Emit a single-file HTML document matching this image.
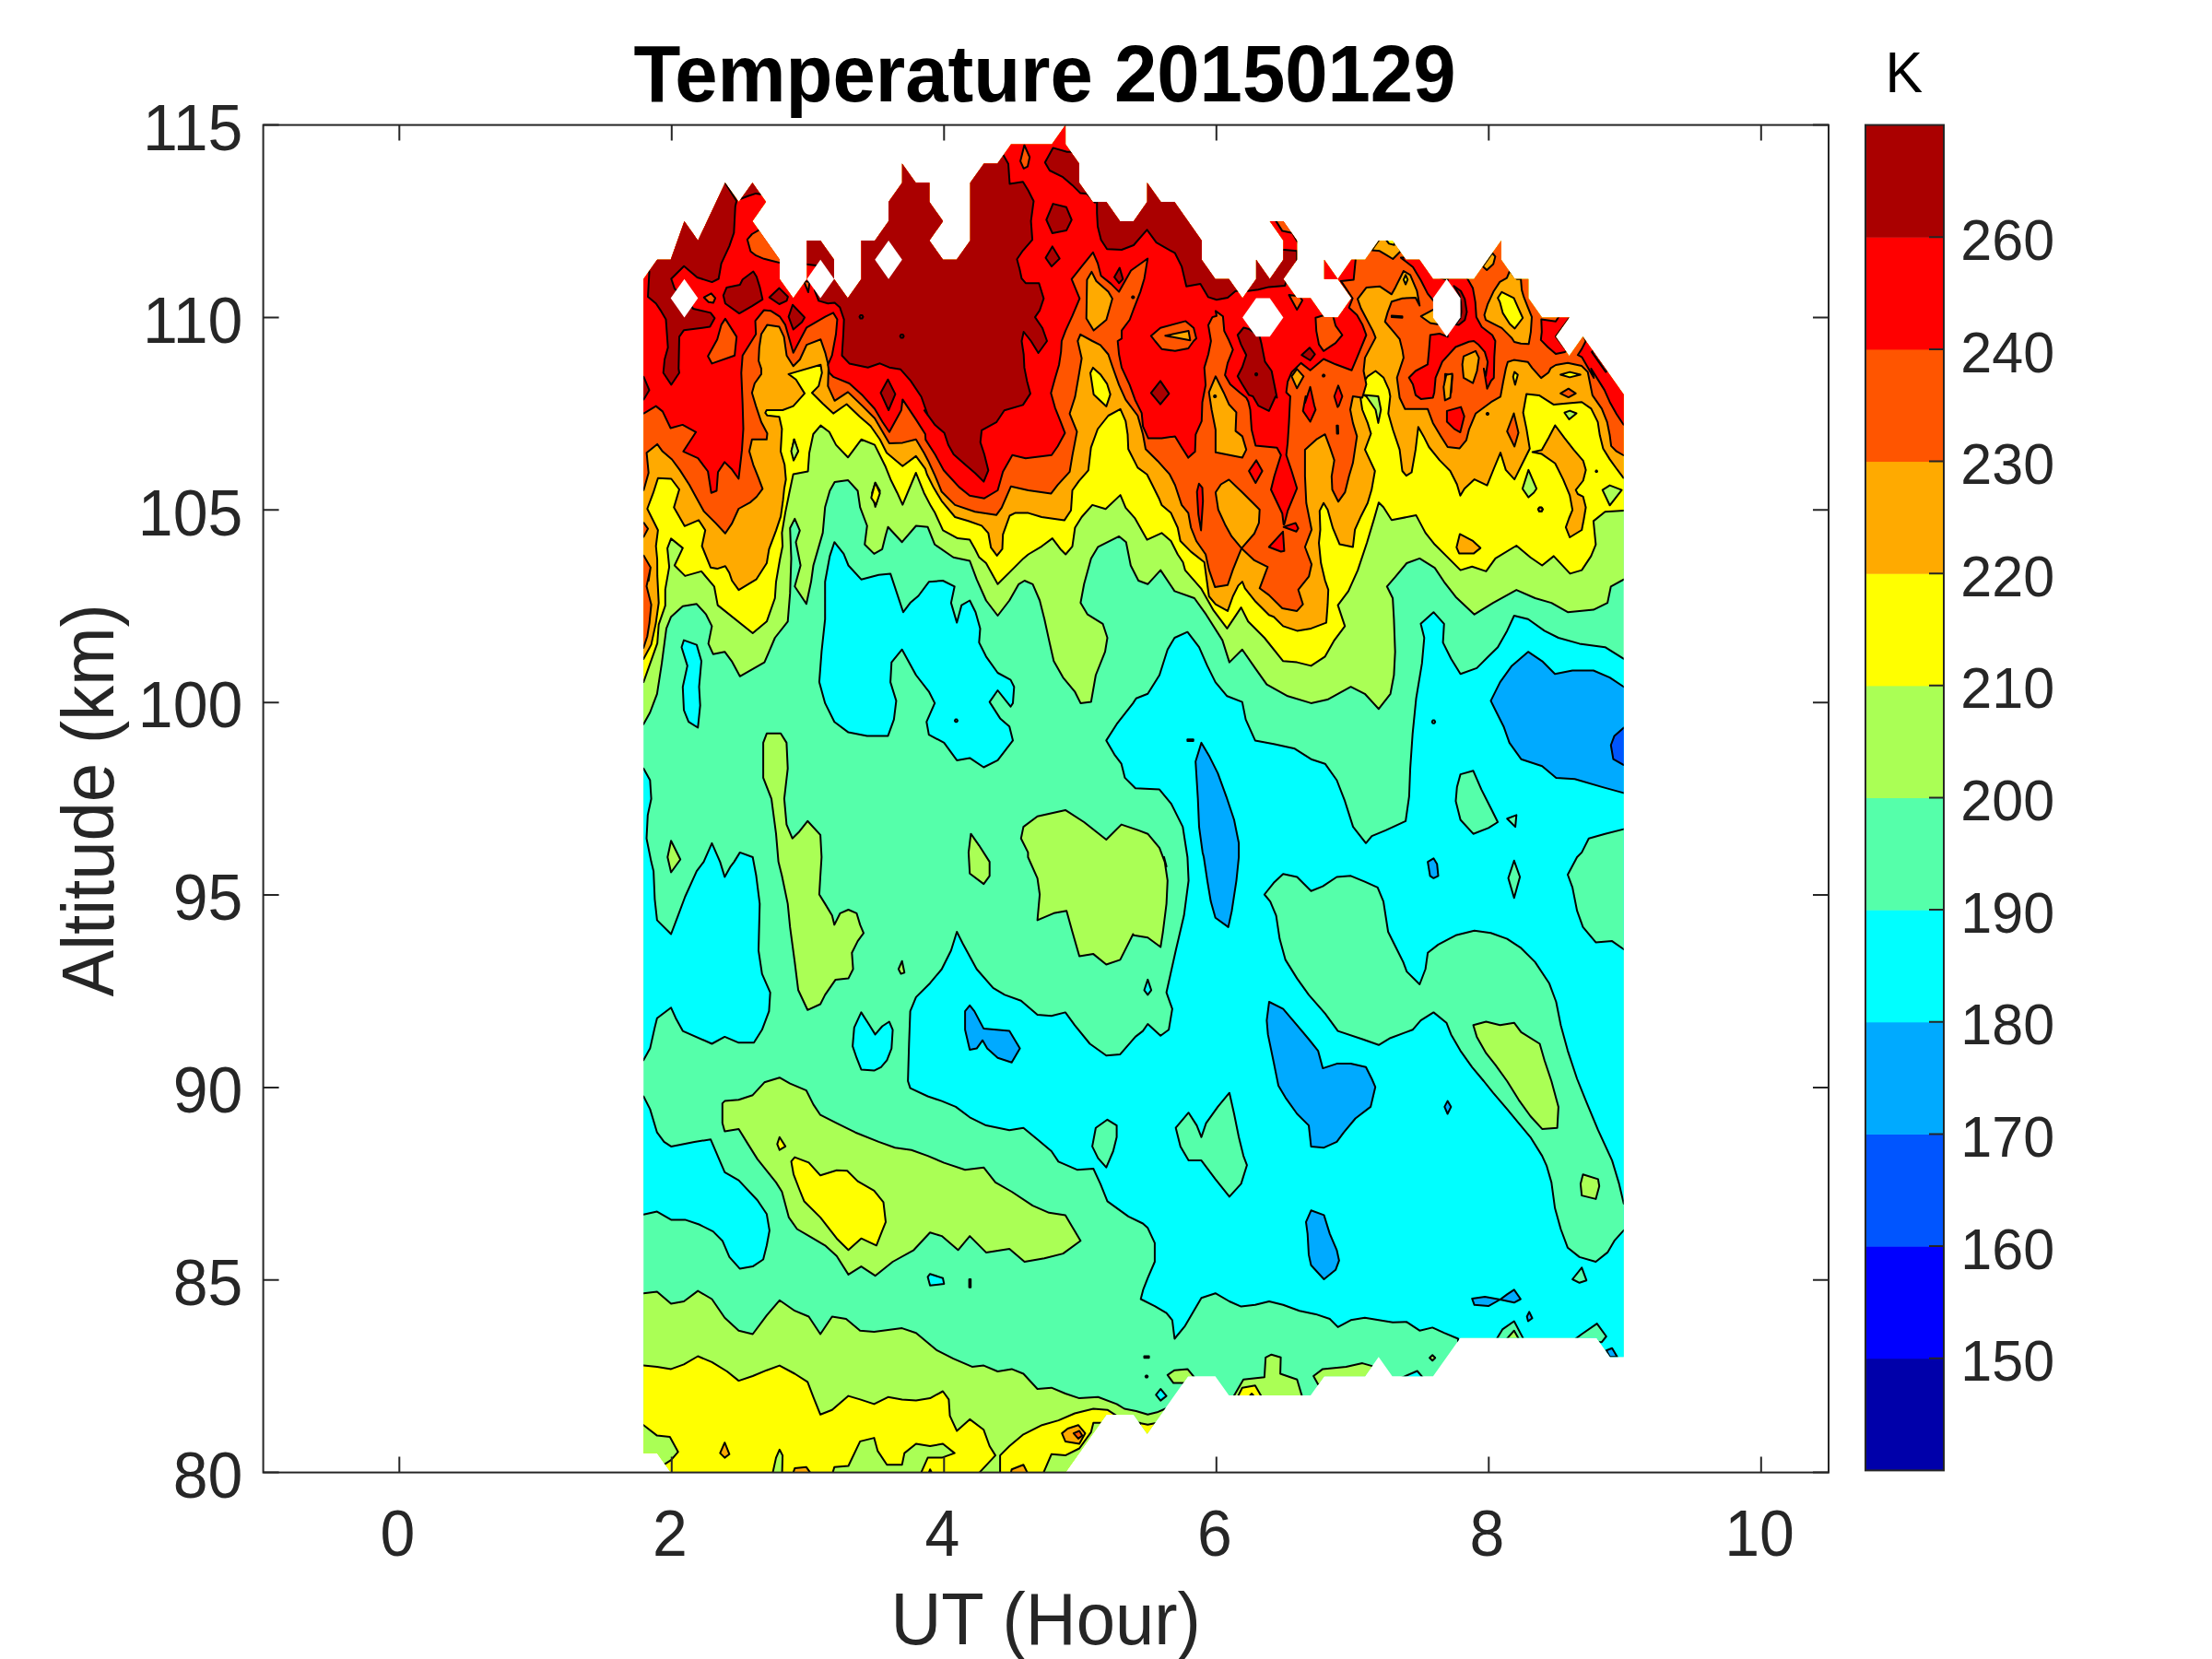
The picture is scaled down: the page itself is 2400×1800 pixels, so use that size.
<!DOCTYPE html>
<html><head><meta charset="utf-8"><title>Temperature 20150129</title>
<style>html,body{margin:0;padding:0;background:#fff}svg{display:block}</style></head>
<body>
<svg width="2400" height="1800" viewBox="0 0 2400 1800">
<rect width="2400" height="1800" fill="#fff"/>
<defs><clipPath id="c"><path d="M698.2 1576.7 L713.0 1576.7 L727.7 1597.6 L1156.1 1597.6 L1200.4 1534.9 L1230.0 1534.9 L1244.7 1555.8 L1289.0 1493.2 L1318.6 1493.2 L1333.4 1514.1 L1422.0 1514.1 L1436.8 1493.2 L1481.1 1493.2 L1495.8 1472.3 L1510.6 1493.2 L1554.9 1493.2 L1584.5 1451.4 L1732.2 1451.4 L1746.9 1472.3 L1761.7 1472.3 L1761.7 428.0 L1717.4 365.3 L1702.6 386.2 L1687.9 365.3 L1702.6 344.4 L1673.1 344.4 L1658.3 323.6 L1658.3 302.7 L1643.5 302.7 L1628.8 281.8 L1628.8 260.9 L1599.2 302.7 L1569.7 302.7 L1554.9 302.7 L1540.1 281.8 L1525.4 281.8 L1510.6 260.9 L1495.8 260.9 L1481.1 281.8 L1466.3 281.8 L1451.5 302.7 L1466.3 323.6 L1451.5 344.4 L1436.8 344.4 L1422.0 323.6 L1407.2 323.6 L1392.4 302.7 L1407.2 281.8 L1407.2 260.9 L1392.4 240.0 L1377.7 240.0 L1392.4 260.9 L1392.4 281.8 L1377.7 302.7 L1362.9 281.8 L1362.9 302.7 L1348.1 323.6 L1333.4 302.7 L1318.6 302.7 L1303.8 281.8 L1303.8 260.9 L1274.3 219.1 L1259.5 219.1 L1244.7 198.2 L1244.7 219.1 L1230.0 240.0 L1215.2 240.0 L1200.4 219.1 L1185.6 219.1 L1170.9 198.2 L1170.9 177.4 L1156.1 156.5 L1156.1 135.6 L1141.3 156.5 L1097.0 156.5 L1082.2 177.4 L1067.5 177.4 L1052.7 198.2 L1052.7 260.9 L1037.9 281.8 L1023.2 281.8 L1008.4 260.9 L1023.2 240.0 L1008.4 219.1 L1008.4 198.2 L993.6 198.2 L978.8 177.4 L978.8 198.2 L964.1 219.1 L964.1 240.0 L949.3 260.9 L934.5 260.9 L934.5 302.7 L919.8 323.6 L905.0 302.7 L905.0 281.8 L890.2 260.9 L875.5 260.9 L875.5 302.7 L860.7 323.6 L845.9 302.7 L845.9 281.8 L816.4 240.0 L831.1 219.1 L816.4 198.2 L801.6 219.1 L786.8 198.2 L757.3 260.9 L742.5 240.0 L727.7 281.8 L713.0 281.8 L698.2 302.7Z M1436.8 281.8 L1451.5 302.7 L1436.8 302.7Z" clip-rule="nonzero"/></clipPath></defs>
<g clip-path="url(#c)" stroke="#000" stroke-width="2" stroke-linejoin="round">
<rect x="600" y="100" width="1300" height="1550" fill="#55FFAA" stroke="none"/>
<path d="M742.0 694.6 L755.9 699.6 L761.0 717.3 L758.5 745.2 L759.7 765.4 L757.2 789.5 L747.1 783.2 L742.0 770.5 L740.8 745.2 L745.8 722.4 L739.5 702.2Z" fill="#00FFFF"/>
<path d="M905.3 588.2 L915.4 600.9 L920.5 613.5 L934.4 628.7 L953.4 623.7 L966.1 622.4 L980.0 664.2 L987.6 654.1 L996.5 646.5 L1007.8 631.3 L1023.0 630.0 L1035.7 636.3 L1031.9 654.1 L1038.2 675.6 L1043.3 656.6 L1052.2 651.5 L1058.5 664.2 L1063.5 681.9 L1062.3 697.1 L1069.9 712.3 L1082.5 730.0 L1096.5 737.6 L1100.3 745.2 L1099.0 762.9 L1096.5 766.7 L1082.5 749.0 L1073.7 761.6 L1085.1 779.4 L1095.2 788.2 L1099.0 803.4 L1082.5 824.9 L1067.3 832.5 L1052.2 822.4 L1038.2 824.9 L1024.3 805.9 L1007.8 797.1 L1005.3 783.2 L1014.2 762.9 L1007.8 750.3 L993.9 732.5 L978.7 704.7 L967.3 718.6 L966.1 740.1 L972.4 760.4 L969.9 780.6 L963.5 798.4 L940.8 798.4 L920.5 794.6 L905.3 783.2 L895.2 762.9 L888.9 740.1 L891.4 707.2 L895.2 671.8 L895.2 631.3 L900.3 603.4Z" fill="#00FFFF"/>
<path d="M690.1 833.8 L698.2 833.8 L705.3 846.5 L706.6 866.7 L702.8 884.4 L701.5 909.7 L706.6 935.1 L709.1 945.2 L710.4 975.6 L712.9 998.4 L728.1 1013.5 L735.7 993.3 L743.3 973.0 L755.9 945.2 L763.5 935.1 L772.4 914.8 L781.3 935.1 L786.3 951.5 L792.7 940.1 L796.5 935.1 L802.8 924.9 L816.7 930.0 L820.5 950.3 L824.3 980.6 L823.0 1031.3 L826.8 1056.6 L835.7 1076.8 L834.4 1097.1 L826.8 1117.3 L818.0 1131.3 L801.5 1131.3 L786.3 1124.9 L772.4 1132.5 L740.8 1118.6 L733.2 1104.7 L728.1 1093.3 L712.9 1104.7 L710.4 1114.8 L705.3 1137.6 L698.2 1150.3 L690.1 1150.3Z" fill="#00FFFF"/>
<path d="M690.1 1189.5 L698.2 1189.5 L705.3 1203.4 L712.9 1228.7 L720.5 1238.9 L728.1 1243.9 L753.4 1238.9 L771.1 1236.3 L778.7 1254.1 L786.3 1271.8 L801.5 1280.6 L821.8 1302.2 L831.9 1317.3 L834.9 1335.1 L831.9 1351.3 L828.1 1366.5 L816.7 1374.1 L802.8 1376.6 L791.4 1363.9 L783.8 1346.2 L773.7 1336.1 L758.5 1328.5 L743.3 1323.4 L728.1 1323.4 L712.9 1314.6 L698.2 1317.8 L690.1 1317.8Z" fill="#00FFFF"/>
<path d="M934.4 1098.4 L943.3 1112.3 L949.6 1122.4 L957.2 1113.5 L964.8 1108.5 L968.6 1117.3 L967.3 1137.6 L962.3 1150.3 L955.9 1157.8 L948.4 1161.6 L934.4 1160.4 L929.4 1147.7 L925.1 1135.1 L926.8 1114.8Z" fill="#00FFFF"/>
<path d="M1200.3 803.4 L1211.6 785.7 L1229.4 762.9 L1232.7 757.8 L1245.3 752.8 L1258.0 732.5 L1266.8 704.7 L1274.4 692.0 L1288.4 685.7 L1301.0 702.2 L1309.9 722.4 L1318.7 740.1 L1331.4 755.3 L1347.8 761.6 L1351.6 780.6 L1361.8 803.4 L1382.0 807.2 L1404.8 812.3 L1422.5 823.7 L1437.7 828.7 L1450.4 846.5 L1459.2 869.2 L1468.1 897.1 L1482.0 914.8 L1488.4 907.2 L1503.5 900.9 L1525.1 890.8 L1528.9 864.2 L1530.1 833.8 L1532.7 795.8 L1536.5 757.8 L1542.8 719.9 L1545.3 692.0 L1541.5 676.8 L1555.4 664.2 L1566.8 676.8 L1565.6 697.1 L1574.4 714.8 L1584.6 731.3 L1602.3 724.9 L1614.9 712.3 L1625.1 702.2 L1635.2 684.4 L1642.8 668.0 L1658.0 671.8 L1675.7 684.4 L1690.9 692.0 L1713.7 698.4 L1741.5 702.2 L1761.8 714.8 L1789.6 714.8 L1789.6 1477.8 L1582.0 1477.8 L1582.0 1452.5 L1566.8 1446.2 L1554.2 1440.4 L1540.3 1443.7 L1526.3 1434.3 L1511.1 1434.8 L1495.9 1432.3 L1480.8 1429.7 L1465.6 1432.3 L1451.6 1439.9 L1442.8 1431.0 L1427.6 1425.9 L1409.9 1422.2 L1392.2 1415.8 L1377.0 1412.0 L1361.8 1415.8 L1346.6 1417.6 L1333.9 1412.0 L1318.7 1403.2 L1303.5 1408.2 L1285.8 1438.6 L1274.4 1452.5 L1271.9 1432.3 L1265.6 1424.7 L1252.9 1417.1 L1237.7 1409.5 L1240.3 1399.4 L1245.3 1386.7 L1252.9 1369.0 L1252.9 1348.7 L1245.3 1332.3 L1240.0 1327.5 L1224.3 1319.9 L1201.5 1303.4 L1193.9 1284.4 L1186.3 1268.0 L1168.6 1269.2 L1148.4 1260.4 L1140.8 1249.0 L1125.6 1236.3 L1110.4 1223.7 L1095.2 1226.2 L1069.9 1221.1 L1052.2 1212.3 L1037.0 1200.9 L1021.8 1194.6 L1006.6 1189.5 L987.6 1180.6 L985.1 1173.0 L986.3 1132.5 L987.6 1097.1 L993.9 1081.9 L1009.1 1066.7 L1021.8 1051.5 L1031.9 1031.3 L1038.2 1011.0 L1044.6 1023.7 L1059.7 1051.5 L1077.5 1071.8 L1090.1 1079.4 L1107.8 1085.7 L1125.6 1100.9 L1140.8 1102.2 L1155.9 1098.4 L1166.1 1112.3 L1182.5 1132.5 L1200.3 1145.2 L1215.4 1143.9 L1231.9 1124.9 L1240.0 1118.6 L1245.3 1111.0 L1259.2 1123.7 L1268.1 1117.3 L1271.9 1094.6 L1265.6 1076.8 L1275.7 1031.3 L1284.6 993.3 L1289.6 955.3 L1288.4 930.0 L1283.3 897.1 L1270.6 871.8 L1258.0 856.6 L1231.9 855.3 L1220.5 843.9 L1216.7 828.7 L1209.1 818.6Z" fill="#00FFFF"/>
<path d="M1006.6 1385.4 L1009.1 1382.2 L1023.0 1386.7 L1024.3 1393.0 L1009.1 1394.8Z" fill="#00FFFF"/>
<path d="M1520.0 1495.1 L1537.7 1487.5 L1544.6 1495.6Z" fill="#00FFFF"/>
<path d="M1254.2 1513.3 L1259.2 1507.0 L1265.6 1514.6 L1259.2 1519.6Z" fill="#00FFFF"/>
<path d="M1303.5 805.9 L1312.4 821.1 L1321.3 838.9 L1331.4 866.7 L1339.0 889.5 L1344.1 914.8 L1344.1 930.0 L1341.5 955.3 L1336.5 988.2 L1332.7 1005.9 L1318.7 995.8 L1313.7 978.1 L1309.9 955.3 L1306.1 930.0 L1304.8 924.9 L1301.0 897.1 L1299.7 866.7 L1297.2 826.2Z" fill="#00AAFF"/>
<path d="M1658.0 707.2 L1673.2 717.3 L1687.1 731.3 L1706.1 727.5 L1728.9 727.5 L1746.6 735.1 L1761.8 745.2 L1789.6 745.2 L1789.6 860.4 L1761.8 860.4 L1739.0 854.1 L1708.6 845.2 L1688.4 843.9 L1673.2 831.3 L1650.4 823.7 L1637.7 805.9 L1631.4 788.2 L1622.5 770.5 L1617.5 760.4 L1627.6 740.1 L1640.3 722.4Z" fill="#00AAFF"/>
<path d="M1789.6 789.5 L1761.8 789.5 L1751.6 798.4 L1747.8 808.5 L1750.4 823.7 L1761.8 830.0 L1789.6 830.0Z" fill="#0055FF"/>
<path d="M1549.1 935.1 L1555.4 931.3 L1559.2 937.6 L1560.5 950.3 L1555.4 952.8 L1551.6 950.3Z" fill="#00AAFF"/>
<path d="M1052.2 1090.8 L1057.2 1097.1 L1067.3 1116.1 L1095.2 1118.6 L1106.6 1137.6 L1097.7 1152.8 L1082.5 1147.7 L1071.1 1137.6 L1066.1 1128.7 L1059.7 1137.6 L1052.2 1138.9 L1047.1 1117.3 L1047.1 1097.1Z" fill="#00AAFF"/>
<path d="M1377.0 1087.0 L1392.2 1094.6 L1407.3 1112.3 L1420.0 1127.5 L1430.1 1140.1 L1435.2 1159.1 L1450.4 1154.1 L1465.6 1154.1 L1482.0 1157.8 L1488.4 1170.5 L1492.2 1179.4 L1487.1 1200.9 L1470.6 1213.5 L1458.0 1228.7 L1450.4 1238.9 L1436.5 1245.2 L1422.5 1243.9 L1420.0 1221.1 L1407.3 1208.5 L1394.7 1190.8 L1387.1 1178.1 L1382.0 1152.8 L1375.7 1122.4 L1374.4 1107.2Z" fill="#00AAFF"/>
<path d="M1422.5 1313.3 L1436.5 1318.4 L1442.8 1338.6 L1450.4 1356.3 L1452.9 1367.7 L1449.1 1377.8 L1436.5 1388.0 L1422.5 1372.8 L1420.0 1361.4 L1418.7 1338.6 L1417.0 1325.9Z" fill="#00AAFF"/>
<path d="M1570.6 1194.6 L1574.4 1200.9 L1570.6 1208.5 L1567.3 1200.9Z" fill="#00AAFF"/>
<path d="M1597.2 1409.0 L1611.1 1407.0 L1627.6 1410.0 L1635.2 1404.4 L1642.8 1399.4 L1649.9 1409.5 L1642.8 1413.3 L1627.6 1410.0 L1614.9 1417.1 L1599.7 1415.8Z" fill="#00AAFF"/>
<path d="M1659.2 1423.4 L1662.5 1430.3 L1658.0 1433.5 L1656.7 1428.5Z" fill="#00AAFF"/>
<path d="M1742.8 1465.2 L1749.1 1462.7 L1754.7 1472.3 L1746.6 1472.3Z" fill="#00AAFF"/>
<path d="M1584.6 840.1 L1598.5 836.3 L1607.3 856.6 L1617.5 876.8 L1625.1 892.0 L1614.9 898.4 L1598.5 904.7 L1584.6 889.5 L1579.5 869.2 L1580.8 854.1Z" fill="#55FFAA"/>
<path d="M1635.2 888.2 L1645.3 884.4 L1644.1 897.1Z" fill="#55FFAA"/>
<path d="M1789.6 899.6 L1761.8 899.6 L1741.5 904.7 L1723.8 909.7 L1716.2 924.9 L1711.1 930.0 L1701.0 949.0 L1706.1 962.9 L1711.1 988.2 L1717.5 1005.9 L1731.4 1022.4 L1749.1 1021.1 L1761.8 1030.0 L1789.6 1030.0Z" fill="#55FFAA"/>
<path d="M1642.8 933.8 L1649.1 951.5 L1642.8 974.3 L1636.5 952.8Z" fill="#55FFAA"/>
<path d="M1371.9 970.5 L1382.0 957.8 L1392.2 948.2 L1407.3 951.5 L1422.5 966.7 L1435.2 961.6 L1450.4 951.5 L1465.6 950.3 L1480.8 956.6 L1494.7 962.9 L1501.0 978.1 L1506.1 1011.0 L1513.7 1026.2 L1522.5 1043.9 L1526.3 1054.1 L1540.3 1068.0 L1546.6 1051.5 L1549.1 1033.8 L1560.5 1024.9 L1579.5 1014.8 L1599.7 1009.7 L1617.5 1012.3 L1635.2 1018.6 L1650.4 1028.7 L1665.6 1043.9 L1680.8 1066.7 L1688.4 1087.0 L1693.4 1112.3 L1701.0 1140.1 L1711.1 1170.5 L1721.3 1195.8 L1733.9 1226.2 L1749.1 1259.1 L1756.7 1284.4 L1761.8 1305.9 L1789.6 1305.9 L1789.6 1334.8 L1761.8 1334.8 L1751.6 1346.2 L1744.1 1358.9 L1731.4 1369.0 L1713.7 1363.9 L1701.0 1353.8 L1693.4 1333.5 L1687.1 1310.8 L1683.3 1282.9 L1678.2 1265.2 L1673.2 1254.1 L1660.5 1233.8 L1647.8 1218.6 L1635.2 1203.4 L1620.0 1185.7 L1609.9 1173.0 L1597.2 1157.8 L1584.6 1140.1 L1574.4 1122.4 L1569.4 1109.7 L1555.4 1098.4 L1541.5 1107.2 L1532.7 1117.3 L1508.6 1126.2 L1495.9 1133.8 L1478.2 1127.5 L1451.6 1118.6 L1437.7 1099.6 L1420.0 1079.4 L1407.3 1061.6 L1394.7 1041.4 L1388.4 1018.6 L1384.6 993.3 L1378.2 978.1Z" fill="#55FFAA"/>
<path d="M1333.9 1185.7 L1339.0 1208.5 L1344.1 1233.8 L1349.1 1254.1 L1352.9 1264.2 L1346.6 1284.4 L1333.9 1298.4 L1318.7 1279.4 L1303.5 1259.1 L1289.6 1259.1 L1280.8 1243.9 L1275.7 1223.7 L1289.6 1207.2 L1298.5 1221.1 L1303.5 1233.8 L1308.6 1218.6 L1321.3 1200.9Z" fill="#55FFAA"/>
<path d="M1201.5 1214.8 L1211.6 1221.1 L1211.6 1233.8 L1207.8 1249.0 L1200.3 1266.7 L1191.4 1256.6 L1185.1 1243.9 L1188.9 1223.7Z" fill="#55FFAA"/>
<path d="M1716.2 1375.3 L1721.3 1389.2 L1713.7 1391.8 L1706.1 1388.0Z" fill="#55FFAA"/>
<path d="M1622.5 1455.1 L1630.1 1442.4 L1642.8 1433.5 L1654.2 1455.1Z" fill="#55FFAA"/>
<path d="M1632.7 1455.1 L1642.8 1443.7 L1649.1 1455.1Z" fill="#AAFF55"/>
<path d="M1706.1 1455.1 L1716.2 1447.5 L1732.7 1436.1 L1742.8 1450.0 L1737.7 1456.3Z" fill="#55FFAA"/>
<path d="M1245.3 1062.9 L1249.1 1074.3 L1245.3 1079.4 L1241.5 1074.3Z" fill="#00FFFF"/>
<path d="M831.9 795.8 L847.1 795.8 L853.4 805.9 L854.7 833.8 L850.9 866.7 L853.4 894.6 L859.7 909.7 L867.3 902.2 L876.2 890.8 L890.1 905.9 L891.4 930.0 L890.1 950.3 L888.9 970.5 L895.2 980.6 L902.8 993.3 L905.3 1003.4 L911.6 990.8 L920.5 987.0 L929.4 990.8 L933.2 1003.4 L937.0 1012.3 L930.6 1021.1 L924.3 1033.8 L925.6 1051.5 L920.5 1061.6 L906.6 1062.9 L895.2 1079.4 L890.1 1089.5 L876.2 1095.8 L866.1 1074.3 L862.3 1043.9 L857.2 1005.9 L854.7 980.6 L848.4 950.3 L844.6 935.1 L842.0 904.7 L837.0 866.7 L828.1 843.9 L828.1 805.9Z" fill="#AAFF55"/>
<path d="M728.1 912.3 L738.2 932.5 L728.1 946.5 L724.3 930.0Z" fill="#AAFF55"/>
<path d="M1053.4 904.7 L1062.3 917.3 L1073.7 935.1 L1073.7 950.3 L1067.3 959.1 L1052.2 947.7 L1050.9 924.9Z" fill="#AAFF55"/>
<path d="M1110.4 897.1 L1125.6 885.7 L1155.9 878.9 L1176.2 892.0 L1200.3 911.0 L1216.7 894.6 L1235.2 900.9 L1245.3 904.7 L1258.0 919.9 L1265.6 940.1 L1263.0 930.0 L1266.8 955.3 L1265.6 980.6 L1261.8 1011.0 L1259.2 1027.5 L1245.3 1017.3 L1230.1 1014.8 L1229.4 1013.5 L1215.4 1041.4 L1200.3 1046.5 L1186.3 1035.1 L1171.1 1037.6 L1163.5 1011.0 L1157.2 988.2 L1143.3 990.8 L1125.6 998.4 L1128.1 970.5 L1125.6 952.8 L1115.4 930.0 L1115.4 924.9 L1107.8 909.7Z" fill="#AAFF55"/>
<path d="M978.7 1042.7 L981.3 1055.3 L977.5 1056.6 L974.9 1051.5Z" fill="#AAFF55"/>
<path d="M1598.5 1112.3 L1612.4 1108.5 L1627.6 1112.3 L1642.8 1109.7 L1650.4 1119.9 L1670.6 1132.5 L1675.7 1150.3 L1683.3 1173.0 L1690.9 1200.9 L1689.6 1223.7 L1673.2 1224.9 L1660.5 1211.0 L1647.8 1193.3 L1635.2 1173.0 L1622.5 1155.3 L1612.4 1142.7 L1602.3 1124.9Z" fill="#AAFF55"/>
<path d="M1717.5 1274.3 L1733.9 1279.4 L1735.2 1287.0 L1731.4 1300.9 L1716.2 1297.1 L1714.9 1284.4Z" fill="#AAFF55"/>
<path d="M783.8 1197.1 L786.3 1194.6 L801.5 1193.3 L816.7 1188.2 L829.4 1174.3 L845.8 1169.2 L857.2 1175.6 L874.9 1183.2 L882.5 1198.4 L890.1 1209.7 L907.8 1218.6 L928.1 1228.7 L953.4 1238.9 L971.1 1245.2 L988.9 1247.7 L1006.6 1254.1 L1024.3 1261.6 L1047.1 1269.2 L1067.3 1266.7 L1080.0 1282.9 L1097.7 1293.0 L1120.5 1308.2 L1138.2 1315.8 L1155.9 1318.4 L1164.8 1333.5 L1172.4 1346.2 L1153.4 1360.1 L1133.2 1365.2 L1111.6 1369.0 L1095.2 1355.1 L1069.9 1358.9 L1052.2 1341.1 L1039.5 1356.3 L1021.8 1341.1 L1009.1 1337.3 L991.4 1356.3 L968.6 1369.0 L949.6 1384.2 L934.4 1374.1 L920.5 1382.9 L907.8 1362.7 L895.2 1351.3 L880.0 1342.4 L864.8 1333.5 L855.9 1320.9 L848.4 1293.0 L842.0 1282.9 L821.8 1257.6 L811.6 1241.4 L801.5 1224.9 L786.3 1227.5 L783.8 1218.6Z" fill="#AAFF55"/>
<path d="M858.5 1260.1 L862.3 1255.6 L877.5 1261.4 L890.1 1275.3 L907.8 1269.7 L919.2 1270.3 L930.6 1281.6 L948.4 1291.8 L958.5 1304.4 L961.0 1325.9 L955.9 1338.6 L950.9 1351.3 L934.4 1343.7 L920.5 1356.3 L907.8 1343.7 L890.1 1320.9 L872.4 1303.2 L867.3 1290.5 L861.0 1274.1Z" fill="#FFFF00"/>
<path d="M845.8 1233.8 L852.2 1243.9 L845.8 1247.7 L843.3 1241.4Z" fill="#FFFF00"/>
<path d="M690.1 1403.2 L698.2 1403.2 L712.9 1401.4 L728.1 1414.6 L742.0 1412.0 L757.2 1400.6 L772.4 1409.5 L786.3 1429.7 L801.5 1443.7 L816.7 1447.5 L831.9 1427.2 L845.8 1410.8 L862.3 1422.2 L877.5 1428.5 L890.1 1447.5 L902.8 1428.5 L918.0 1431.0 L933.2 1443.7 L948.4 1444.9 L978.7 1441.1 L993.9 1446.2 L1016.7 1465.2 L1034.4 1474.1 L1054.7 1482.9 L1067.3 1481.6 L1082.5 1488.0 L1097.7 1485.4 L1110.4 1490.5 L1125.6 1507.0 L1140.8 1505.7 L1155.9 1512.0 L1171.1 1517.1 L1191.4 1515.8 L1211.6 1523.4 L1220.0 1528.5 L1232.7 1531.0 L1245.3 1534.8 L1255.4 1532.3 L1264.3 1528.5 L1295.9 1528.5 L1295.9 1617.1 L690.1 1617.1Z" fill="#AAFF55"/>
<path d="M690.1 1481.6 L698.2 1481.6 L712.9 1482.9 L728.1 1485.4 L742.0 1480.4 L757.2 1471.5 L772.4 1477.8 L788.9 1488.0 L801.5 1498.1 L816.7 1493.0 L831.9 1486.7 L845.8 1481.6 L862.3 1490.5 L876.2 1499.4 L882.5 1515.8 L890.1 1534.8 L902.8 1529.7 L920.5 1514.6 L933.2 1518.4 L948.4 1523.4 L963.5 1515.8 L978.7 1518.4 L993.9 1519.6 L1009.1 1517.1 L1023.0 1509.5 L1029.4 1518.4 L1030.6 1536.1 L1038.2 1552.5 L1052.2 1539.9 L1067.3 1551.3 L1073.7 1569.0 L1080.0 1579.1 L1062.3 1598.1 L1062.3 1617.1 L690.1 1617.1Z" fill="#FFFF00"/>
<path d="M1085.1 1617.1 L1085.1 1579.1 L1095.2 1569.0 L1110.4 1556.3 L1130.6 1546.2 L1148.4 1541.1 L1166.1 1533.5 L1186.3 1528.5 L1201.5 1529.7 L1211.6 1536.1 L1220.0 1538.6 L1235.2 1543.7 L1245.3 1545.7 L1255.4 1543.7 L1263.0 1541.1 L1283.3 1579.1 L1186.3 1617.1Z" fill="#FFFF00"/>
<path d="M690.1 1543.7 L698.2 1546.2 L712.9 1557.6 L726.8 1558.9 L735.7 1575.3 L728.1 1584.2 L720.5 1589.2 L705.3 1609.5 L690.1 1609.5Z" fill="#AAFF55"/>
<path d="M837.0 1604.4 L842.0 1581.6 L845.8 1572.8 L849.1 1579.1 L848.4 1604.4Z" fill="#AAFF55"/>
<path d="M901.5 1604.4 L905.3 1591.8 L920.5 1590.5 L933.2 1563.9 L948.4 1560.1 L952.2 1574.1 L962.3 1589.2 L978.7 1589.2 L981.3 1576.6 L993.9 1566.5 L1009.1 1569.0 L1023.0 1566.5 L1035.7 1576.6 L1021.8 1581.6 L1006.6 1581.6 L996.5 1604.4Z" fill="#AAFF55"/>
<path d="M1129.4 1604.4 L1140.8 1577.8 L1155.9 1579.1 L1171.1 1571.5 L1183.8 1553.8 L1186.3 1543.7 L1196.5 1543.7 L1237.0 1543.7 L1237.0 1604.4Z" fill="#AAFF55"/>
<path d="M781.3 1576.6 L786.3 1565.2 L791.4 1577.8 L786.3 1581.6Z" fill="#FFAA00"/>
<path d="M858.5 1604.4 L862.3 1593.0 L874.9 1591.8 L883.8 1604.4Z" fill="#FFAA00"/>
<path d="M1095.2 1604.4 L1097.7 1594.3 L1110.4 1589.2 L1118.0 1604.4Z" fill="#FFAA00"/>
<path d="M1152.2 1555.1 L1158.5 1550.0 L1169.9 1546.2 L1177.5 1555.1 L1171.1 1566.5 L1155.9 1563.9Z" fill="#FFAA00"/>
<path d="M1164.8 1555.1 L1171.1 1552.5 L1174.2 1557.6 L1169.9 1560.9Z" fill="#FF5500"/>
<path d="M1005.3 1604.4 L1009.1 1594.3 L1014.2 1604.4Z" fill="#FFAA00"/>
<path d="M1266.8 1491.8 L1274.4 1486.7 L1288.4 1485.4 L1301.0 1500.6 L1273.2 1500.6Z" fill="#AAFF55"/>
<path d="M1336.5 1518.4 L1349.1 1496.8 L1371.9 1494.3 L1373.2 1472.8 L1379.5 1469.7 L1389.6 1472.8 L1389.1 1490.5 L1407.3 1496.8 L1413.7 1518.4Z" fill="#AAFF55"/>
<path d="M1341.5 1518.4 L1347.8 1505.7 L1361.8 1503.2 L1370.6 1518.4Z" fill="#FFFF00"/>
<path d="M1352.9 1518.4 L1358.0 1512.0 L1363.8 1518.4Z" fill="#FFAA00"/>
<path d="M1425.1 1493.0 L1435.2 1485.4 L1460.5 1482.9 L1478.2 1479.1 L1489.6 1482.4 L1483.3 1499.4 L1430.1 1501.9Z" fill="#AAFF55"/>
<path d="M650.0 785.7 L698.2 785.7 L705.3 773.0 L712.9 752.8 L718.0 719.9 L723.0 681.9 L728.1 669.2 L740.8 657.8 L755.9 655.3 L766.1 666.7 L772.4 679.4 L768.6 698.4 L773.7 709.7 L786.3 707.2 L793.9 717.3 L802.8 733.8 L829.4 718.6 L834.4 707.2 L840.8 692.0 L854.7 674.3 L857.2 643.9 L858.5 605.9 L857.2 573.0 L862.3 562.9 L867.8 575.6 L863.5 588.2 L868.6 613.5 L862.3 636.3 L874.9 655.3 L880.0 631.3 L882.5 613.5 L892.7 578.1 L895.2 550.3 L900.3 532.5 L905.6 523.1 L920.0 520.9 L930.6 532.5 L933.2 550.3 L940.8 570.5 L938.2 590.8 L948.4 600.9 L957.2 595.8 L961.0 580.6 L963.5 571.8 L978.7 588.2 L993.9 570.5 L1006.6 571.8 L1014.2 590.8 L1034.4 604.7 L1052.2 608.5 L1059.7 628.7 L1069.9 651.5 L1082.5 668.0 L1095.2 651.5 L1105.3 633.8 L1111.6 630.0 L1120.5 633.8 L1128.1 651.5 L1133.2 671.8 L1138.2 694.6 L1143.3 717.3 L1153.4 735.1 L1166.1 750.3 L1172.4 762.9 L1183.8 761.6 L1188.9 732.5 L1199.0 707.2 L1201.5 692.0 L1196.5 676.8 L1180.0 666.7 L1172.4 654.1 L1176.2 633.8 L1183.8 605.9 L1191.4 593.3 L1214.2 581.9 L1221.8 588.2 L1226.8 613.5 L1235.2 630.0 L1245.3 633.8 L1259.2 618.6 L1274.4 641.4 L1295.9 649.0 L1308.6 666.7 L1326.3 694.6 L1333.9 718.6 L1347.8 704.7 L1361.8 724.9 L1374.4 742.7 L1397.2 755.3 L1422.5 762.9 L1440.3 759.1 L1465.6 745.2 L1480.8 752.8 L1495.9 769.2 L1508.6 752.8 L1512.4 732.5 L1513.7 707.2 L1512.4 671.8 L1511.1 649.0 L1504.8 636.3 L1513.7 626.2 L1526.3 611.0 L1540.3 605.9 L1556.7 616.1 L1566.8 631.3 L1579.5 647.7 L1599.7 666.7 L1620.0 654.1 L1645.3 640.1 L1665.6 649.0 L1683.3 654.1 L1701.0 664.2 L1728.9 661.6 L1744.1 654.1 L1747.8 636.3 L1761.8 628.7 L1800.0 628.7 L1800.0 100.0 L650.0 100.0 L650.0 785.7Z" fill="#AAFF55"/>
<path d="M650.0 740.1 L698.2 740.1 L713.2 697.8 L714.7 677.6 L721.8 657.1 L721.8 639.6 L726.1 615.1 L724.1 594.8 L728.1 584.4 L740.8 594.6 L731.9 613.5 L743.3 624.9 L761.0 619.9 L774.9 636.3 L778.7 656.6 L816.7 687.0 L831.9 674.3 L840.8 649.0 L842.0 631.3 L846.2 607.0 L849.1 592.5 L848.4 578.1 L852.0 556.4 L856.4 534.7 L860.7 514.4 L876.6 511.5 L878.1 491.3 L882.4 471.0 L890.4 461.6 L899.8 468.8 L907.0 482.6 L920.0 496.3 L934.5 476.8 L949.0 482.6 L960.5 505.7 L966.3 520.2 L973.5 534.7 L979.3 547.7 L993.8 513.0 L1002.5 534.7 L1010.0 549.1 L1014.5 556.6 L1023.1 575.4 L1039.1 584.1 L1052.1 585.6 L1057.9 595.7 L1062.2 604.4 L1069.9 611.0 L1082.5 633.8 L1095.2 621.1 L1110.4 605.9 L1115.7 601.5 L1130.2 592.8 L1141.8 584.1 L1150.5 595.7 L1156.2 601.5 L1163.5 592.8 L1166.4 572.5 L1173.6 561.0 L1185.2 547.9 L1199.6 552.3 L1215.6 537.1 L1221.3 550.8 L1231.5 562.4 L1244.5 585.6 L1260.4 578.3 L1270.5 587.0 L1277.8 601.5 L1283.5 610.0 L1285.8 618.6 L1303.5 638.9 L1316.2 661.6 L1331.4 681.9 L1346.6 659.1 L1354.2 674.3 L1371.9 692.0 L1392.2 717.3 L1407.3 718.6 L1422.5 722.4 L1437.7 712.3 L1447.8 694.6 L1459.2 679.4 L1451.6 656.6 L1463.0 641.4 L1473.2 618.6 L1483.3 588.2 L1490.9 562.9 L1495.9 545.2 L1501.0 550.3 L1509.9 564.2 L1536.5 559.1 L1546.6 578.1 L1556.7 590.8 L1569.4 603.4 L1584.6 618.6 L1597.2 614.8 L1612.4 619.9 L1622.5 605.9 L1645.3 592.0 L1660.5 604.7 L1673.2 613.5 L1685.8 603.4 L1703.5 622.4 L1716.2 618.6 L1726.3 603.4 L1731.4 590.8 L1728.9 565.4 L1741.5 555.3 L1761.8 554.1 L1800.0 554.1 L1800.0 100.0 L650.0 100.0 L650.0 740.1Z" fill="#FFFF00"/>
<path d="M861.4 476.8 L865.8 489.8 L861.4 498.5 L859.3 488.4Z" fill="#AAFF55"/>
<path d="M949.7 523.8 L954.7 532.5 L949.7 549.9 L946.1 534.7Z" fill="#FFFF00"/>
<path d="M949.6 523.7 L954.7 535.1 L950.4 547.7 L945.3 540.1Z" fill="#FFFF00"/>
<path d="M861.8 476.8 L866.1 489.5 L861.0 499.6 L858.5 489.5Z" fill="#AAFF55"/>
<path d="M1697.4 447.7 L1703.2 445.6 L1710.5 448.5 L1702.5 455.0Z" fill="#AAFF55"/>
<path d="M1658.4 509.9 L1667.1 530.2 L1664.2 534.5 L1658.4 539.6 L1651.9 530.2Z" fill="#AAFF55"/>
<path d="M1738.7 531.6 L1746.6 526.6 L1759.6 531.6 L1746.6 548.3Z" fill="#AAFF55"/>
<path d="M1479.5 428.6 L1495.4 430.0 L1498.3 444.5 L1495.4 458.9 L1492.5 444.5 L1482.4 430.0Z" fill="#AAFF55"/>
<path d="M650.0 715.1 L698.2 715.1 L706.6 699.4 L711.6 676.1 L714.7 654.1 L713.2 624.9 L713.1 607.0 L711.7 592.5 L713.9 575.2 L702.3 552.0 L708.8 534.7 L713.9 518.8 L728.3 519.5 L737.0 531.0 L731.2 550.6 L742.8 570.8 L758.0 564.3 L765.2 575.2 L761.6 592.5 L771.0 615.7 L778.2 617.1 L786.9 614.2 L791.3 621.5 L794.2 630.0 L801.5 640.1 L820.5 628.7 L831.9 611.0 L834.4 595.8 L842.0 575.6 L847.1 560.4 L849.6 542.7 L850.9 530.0 L852.7 520.2 L851.3 504.3 L847.0 489.8 L848.4 465.2 L845.5 452.2 L832.5 450.8 L830.3 447.9 L831.8 445.0 L849.1 445.0 L860.7 440.6 L873.0 426.9 L863.6 411.7 L855.6 405.9 L890.4 395.8 L891.8 404.5 L888.2 418.9 L881.0 426.2 L892.5 437.7 L904.1 448.6 L918.6 438.5 L933.0 452.2 L944.6 462.3 L954.7 476.8 L962.0 491.3 L979.3 505.7 L993.8 494.9 L1003.9 508.6 L1005.8 514.7 L1013.0 529.1 L1021.7 543.6 L1036.2 561.0 L1050.6 565.3 L1065.1 570.4 L1072.3 578.3 L1075.2 594.2 L1081.7 602.9 L1087.5 595.7 L1088.2 579.8 L1095.5 559.5 L1101.3 556.6 L1115.7 556.6 L1130.2 561.0 L1154.8 564.6 L1162.0 553.7 L1163.5 532.0 L1170.7 521.9 L1180.8 510.3 L1183.7 485.7 L1191.0 465.5 L1202.5 451.0 L1215.6 443.8 L1221.3 456.8 L1223.5 471.3 L1224.2 487.2 L1234.4 507.4 L1244.5 514.7 L1250.3 526.2 L1257.5 540.7 L1260.4 547.9 L1270.5 556.6 L1277.8 572.5 L1280.7 587.0 L1292.2 598.6 L1306.7 610.0 L1311.7 647.0 L1318.9 655.7 L1332.0 662.9 L1337.7 647.0 L1343.5 635.4 L1347.9 631.1 L1350.8 638.3 L1362.3 652.8 L1376.8 667.3 L1382.0 669.2 L1392.2 679.4 L1407.3 684.4 L1422.5 681.9 L1439.0 675.6 L1440.5 655.7 L1441.2 639.8 L1437.6 629.6 L1433.2 610.8 L1431.0 589.1 L1432.5 574.7 L1431.8 554.4 L1436.1 545.7 L1440.5 553.0 L1446.2 573.2 L1453.5 590.6 L1467.9 593.5 L1470.1 574.7 L1476.6 560.2 L1483.9 545.7 L1488.2 531.3 L1491.8 511.0 L1481.0 487.9 L1487.5 470.5 L1483.9 458.9 L1478.1 444.5 L1475.9 430.0 L1478.1 417.0 L1483.9 408.3 L1492.5 402.5 L1501.2 409.8 L1507.0 422.8 L1508.4 430.0 L1506.3 448.8 L1511.3 466.2 L1518.6 487.9 L1521.5 511.0 L1525.8 516.1 L1531.6 512.5 L1535.9 487.9 L1538.8 463.3 L1544.6 473.4 L1550.4 485.0 L1562.0 499.4 L1573.5 511.0 L1580.8 525.5 L1584.4 537.8 L1588.9 530.2 L1599.8 520.1 L1613.5 526.6 L1620.8 508.5 L1628.0 491.1 L1633.8 509.9 L1643.2 520.1 L1652.6 501.3 L1659.8 486.8 L1656.2 465.1 L1652.6 447.7 L1656.2 427.5 L1669.9 428.9 L1685.9 439.1 L1701.8 437.6 L1716.2 436.2 L1726.4 443.4 L1733.6 457.9 L1735.8 472.3 L1739.4 486.8 L1746.6 498.4 L1753.9 508.5 L1761.5 518.6 L1800.0 518.6 L1800.0 100.0 L650.0 100.0 L650.0 715.1Z" fill="#FFAA00"/>
<path d="M1185.9 398.9 L1193.9 406.2 L1201.1 416.3 L1204.7 427.9 L1200.4 440.9 L1186.6 427.9 L1184.4 413.4 L1183.0 404.7Z" fill="#FFFF00"/>
<path d="M1687.3 461.5 L1697.4 475.2 L1707.6 488.2 L1717.7 499.8 L1720.6 509.9 L1717.7 521.5 L1709.7 531.6 L1711.9 536.0 L1717.7 538.9 L1720.6 550.5 L1718.4 563.5 L1716.2 575.0 L1703.2 583.0 L1698.9 572.2 L1702.5 562.0 L1706.1 553.3 L1703.2 537.4 L1696.0 520.1 L1687.3 502.7 L1672.8 492.6 L1662.7 490.4 L1672.8 488.2 L1680.1 475.2Z" fill="#FFAA00"/>
<path d="M1583.9 579.4 L1597.6 586.6 L1606.3 594.6 L1599.1 600.4 L1583.1 600.4 L1580.3 593.9Z" fill="#FFAA00"/>
<path d="M1643.2 403.6 L1646.8 406.5 L1643.9 417.4 L1641.7 408.7Z" fill="#FFFF00"/>
<path d="M1693.1 406.5 L1703.2 403.6 L1714.8 406.5 L1703.2 409.4Z" fill="#FFFF00"/>
<path d="M650.0 531.8 L698.4 531.8 L703.7 513.0 L701.6 491.3 L713.1 481.9 L718.9 489.8 L729.1 498.5 L737.7 510.1 L747.9 526.0 L755.8 540.5 L763.8 554.9 L776.8 567.9 L786.9 578.8 L794.2 567.9 L801.4 552.0 L814.4 544.8 L820.9 539.0 L827.4 530.3 L823.1 518.8 L817.3 504.3 L813.0 489.8 L815.9 476.8 L831.8 476.8 L832.5 470.3 L826.0 458.0 L820.2 440.6 L815.9 426.2 L818.8 416.0 L826.0 405.9 L826.0 400.1 L823.1 391.5 L823.8 377.0 L826.0 362.5 L832.5 352.4 L845.5 354.6 L850.6 365.4 L853.5 385.7 L860.7 397.3 L867.9 390.0 L875.2 374.1 L890.4 368.3 L895.4 382.8 L899.0 397.3 L898.3 418.9 L905.6 434.8 L920.0 425.4 L935.9 440.6 L949.0 453.7 L964.9 481.1 L979.3 480.4 L993.8 476.8 L1002.5 491.3 L1007.2 500.2 L1014.5 516.1 L1021.7 533.5 L1036.2 547.9 L1057.9 555.2 L1081.0 558.8 L1086.8 550.8 L1096.9 527.7 L1115.7 532.0 L1140.3 535.6 L1147.6 526.2 L1160.6 511.8 L1163.5 494.4 L1168.5 468.4 L1160.6 448.8 L1166.4 430.8 L1170.7 406.2 L1173.6 388.8 L1169.3 370.0 L1172.2 362.9 L1185.2 370.0 L1193.9 374.3 L1202.5 384.5 L1206.9 397.5 L1214.1 417.7 L1221.3 433.7 L1234.4 451.0 L1240.1 471.3 L1243.0 487.2 L1256.1 500.2 L1269.1 514.7 L1274.9 526.2 L1282.1 547.9 L1289.3 556.6 L1292.2 572.5 L1298.0 587.0 L1308.1 601.5 L1311.7 618.1 L1318.2 636.9 L1332.0 634.7 L1337.7 618.1 L1343.5 603.6 L1347.1 594.9 L1360.9 607.9 L1375.4 615.2 L1366.7 638.3 L1376.8 645.6 L1391.3 660.0 L1407.2 662.9 L1413.7 655.7 L1408.6 639.8 L1420.2 625.3 L1423.1 612.3 L1415.9 593.5 L1423.1 574.7 L1417.3 545.7 L1415.9 516.8 L1415.9 487.9 L1428.9 476.3 L1437.6 471.2 L1443.3 486.4 L1447.7 499.4 L1444.8 516.8 L1445.5 531.3 L1452.0 544.3 L1459.3 534.2 L1463.6 516.8 L1467.9 502.3 L1472.3 473.4 L1467.9 458.9 L1465.0 444.5 L1467.9 430.0 L1478.1 431.5 L1482.4 417.0 L1479.5 402.5 L1481.0 388.1 L1492.5 366.4 L1489.6 359.1 L1476.6 334.5 L1473.0 324.4 L1482.4 312.1 L1496.9 310.7 L1509.9 319.3 L1514.2 311.4 L1522.9 294.0 L1530.1 298.4 L1537.4 315.7 L1540.3 331.6 L1535.9 323.0 L1521.5 323.7 L1509.9 327.3 L1505.6 338.9 L1502.7 349.0 L1511.3 359.1 L1518.6 367.8 L1521.5 379.4 L1522.9 388.1 L1515.7 409.8 L1518.6 431.5 L1524.4 443.7 L1549.0 443.7 L1554.7 458.9 L1563.4 473.4 L1570.7 485.0 L1583.7 486.4 L1590.9 477.7 L1593.8 466.2 L1601.0 448.8 L1617.9 436.2 L1628.0 430.4 L1630.9 414.5 L1633.8 400.0 L1635.9 392.7 L1642.5 390.6 L1657.6 392.7 L1662.5 399.3 L1672.1 410.1 L1680.1 404.3 L1682.6 399.3 L1688.0 396.0 L1701.0 393.8 L1716.2 397.1 L1722.7 403.6 L1724.9 414.5 L1727.8 428.9 L1737.9 443.4 L1743.7 457.9 L1746.6 472.3 L1748.1 483.9 L1753.9 489.7 L1761.5 494.0 L1800.0 494.0 L1800.0 100.0 L650.0 100.0 L650.0 531.8Z" fill="#FF5500"/>
<path d="M695.8 567.2 L698.4 567.2 L703.0 573.7 L698.4 582.4 L695.8 582.4Z" fill="#FF5500"/>
<path d="M695.8 602.7 L698.4 602.7 L705.9 615.7 L703.7 630.0 L705.8 616.1 L701.5 636.1 L706.6 656.1 L704.6 676.1 L702.3 690.5 L698.2 702.9 L690.1 702.9Z" fill="#FF5500"/>
<path d="M1333.4 520.4 L1347.9 534.2 L1366.7 553.0 L1365.9 567.4 L1360.9 579.0 L1347.1 594.9 L1336.3 581.9 L1329.1 568.9 L1321.8 553.0 L1318.9 534.2 L1324.7 525.5Z" fill="#FFAA00"/>
<path d="M1318.9 408.3 L1327.6 425.7 L1333.4 438.7 L1341.4 447.4 L1340.6 467.6 L1347.9 473.4 L1352.2 487.9 L1347.9 496.5 L1318.9 490.8 L1318.9 466.2 L1314.6 444.5 L1311.7 425.7Z" fill="#FFAA00"/>
<path d="M1184.4 294.9 L1189.5 305.0 L1202.5 316.6 L1206.9 323.9 L1200.4 347.0 L1186.6 358.6 L1178.7 345.6 L1179.4 303.6Z" fill="#FFAA00"/>
<path d="M1568.0 405.8 L1575.9 407.2 L1574.5 426.0 L1570.1 430.4 L1567.2 427.5Z" fill="#FFAA00"/>
<path d="M1587.5 395.7 L1597.6 414.5 L1602.0 395.7Z" fill="#FFAA00"/>
<path d="M1642.5 448.5 L1647.5 469.4 L1643.2 484.6 L1635.2 468.0Z" fill="#FF5500"/>
<path d="M1693.1 426.8 L1701.8 421.7 L1709.7 426.8 L1701.8 431.1Z" fill="#FF5500"/>
<path d="M650.0 448.6 L698.4 448.6 L711.7 440.6 L718.9 446.4 L727.6 464.5 L740.6 460.9 L755.1 468.8 L741.4 489.8 L757.3 497.1 L768.1 511.5 L771.7 534.7 L777.5 532.5 L779.0 512.2 L786.2 501.4 L794.2 509.3 L801.4 519.5 L805.0 488.4 L806.5 465.2 L805.7 437.7 L804.3 404.5 L805.7 385.7 L820.2 362.5 L819.5 348.1 L828.9 336.5 L836.1 337.2 L846.2 343.7 L852.0 352.4 L854.9 362.5 L860.7 382.8 L875.2 355.3 L895.4 343.7 L904.1 339.4 L908.4 346.6 L907.0 362.5 L902.7 385.7 L898.3 395.8 L899.8 404.5 L904.1 408.8 L921.5 416.0 L935.9 429.1 L949.0 443.5 L957.6 458.0 L964.9 468.8 L977.9 445.0 L979.3 433.4 L993.8 455.1 L1003.9 471.0 L1004.3 477.1 L1014.5 493.0 L1023.9 510.3 L1033.3 520.5 L1040.5 528.4 L1052.1 537.8 L1068.0 540.7 L1082.5 532.0 L1088.2 511.8 L1098.4 493.7 L1112.8 497.3 L1141.0 493.7 L1147.6 484.3 L1155.5 469.8 L1150.5 456.8 L1144.7 442.3 L1140.3 426.4 L1144.7 410.5 L1149.0 396.0 L1151.2 381.6 L1151.9 370.0 L1156.2 358.6 L1163.5 342.7 L1171.4 323.9 L1162.7 302.9 L1173.6 289.1 L1185.9 273.9 L1191.0 285.5 L1194.6 299.3 L1205.4 307.9 L1214.1 316.6 L1227.1 293.5 L1245.2 280.5 L1241.6 302.2 L1237.3 316.6 L1230.0 335.4 L1225.7 347.0 L1217.0 358.6 L1217.0 367.3 L1212.7 370.0 L1214.1 384.5 L1217.0 398.9 L1225.7 417.7 L1231.5 433.7 L1238.7 448.1 L1240.1 462.6 L1245.9 475.6 L1260.4 475.6 L1274.9 473.4 L1281.4 484.3 L1289.3 496.6 L1296.6 490.1 L1297.3 471.3 L1303.8 456.8 L1304.5 436.5 L1308.1 417.7 L1306.7 398.9 L1311.0 384.5 L1313.9 370.0 L1311.0 352.8 L1315.4 344.1 L1320.0 342.7 L1318.9 337.4 L1326.9 343.2 L1328.3 359.1 L1333.4 369.3 L1337.7 379.4 L1332.0 393.9 L1329.1 406.9 L1334.8 417.0 L1345.0 425.7 L1352.2 431.5 L1354.4 435.8 L1356.5 444.5 L1358.0 466.2 L1362.3 483.5 L1385.5 485.7 L1389.8 493.7 L1382.6 516.8 L1379.0 531.3 L1391.3 557.3 L1392.7 568.9 L1393.4 568.9 L1397.1 554.4 L1407.2 529.8 L1401.4 511.0 L1395.6 493.7 L1397.1 480.6 L1398.5 458.9 L1399.9 430.0 L1395.6 425.7 L1397.1 414.1 L1401.4 404.0 L1411.5 393.9 L1421.6 401.8 L1436.1 389.5 L1449.1 395.3 L1466.5 401.8 L1472.3 388.1 L1482.4 363.5 L1478.1 351.9 L1472.3 341.8 L1463.6 333.8 L1467.6 323.7 L1454.9 304.9 L1468.7 303.4 L1470.8 281.9 L1470.8 100.0 L650.0 100.0Z" fill="#FF0000"/>
<path d="M1248.8 364.4 L1259.0 355.7 L1286.4 348.4 L1295.1 355.7 L1298.0 367.3 L1295.1 370.0 L1289.3 378.0 L1274.9 380.8 L1260.4 378.7 L1253.2 370.0Z" fill="#FF5500"/>
<path d="M1264.3 364.2 L1289.6 359.1 L1291.4 369.2Z" fill="#FFAA00"/>
<path d="M826.0 248.2 L815.9 254.0 L810.8 259.8 L814.4 272.8 L820.2 277.2 L828.9 280.8 L837.6 283.0 L849.1 285.9 L849.1 280.1Z" fill="#FF5500"/>
<path d="M763.8 322.7 L771.7 318.4 L776.1 323.5 L773.9 328.5 L768.8 327.8Z" fill="#FF5500"/>
<path d="M786.9 345.9 L799.2 365.4 L797.1 385.7 L772.5 394.4 L768.1 386.4 L778.2 368.3 L782.6 352.4Z" fill="#FF5500"/>
<path d="M1111.4 157.5 L1117.2 170.5 L1115.0 180.6 L1110.7 182.8 L1107.1 174.8Z" fill="#FF5500"/>
<path d="M1300.9 524.8 L1304.5 529.1 L1305.2 543.6 L1303.1 575.4 L1300.2 558.1 L1298.7 533.5Z" fill="#FF0000"/>
<path d="M1427.4 344.7 L1434.7 342.5 L1446.2 342.5 L1449.1 353.3 L1456.4 363.5 L1449.1 372.2 L1436.1 380.8 L1431.0 373.6 L1428.2 359.1Z" fill="#FF5500"/>
<path d="M1398.5 320.1 L1407.2 336.0 L1413.0 325.9 L1410.1 321.5Z" fill="#FF5500"/>
<path d="M1520.0 279.6 L1533.0 289.7 L1541.7 304.2 L1549.0 318.6 L1556.2 327.3 L1572.1 304.2 L1557.6 299.8 L1543.2 278.1Z" fill="#FF0000"/>
<path d="M1570.7 301.3 L1591.5 301.3 L1598.0 312.4 L1600.7 327.6 L1601.8 343.9 L1607.7 354.8 L1619.1 363.5 L1622.4 370.0 L1621.3 387.3 L1620.8 410.0 L1617.9 413.0 L1613.5 421.7 L1609.9 400.0 L1612.1 407.9 L1614.2 392.7 L1611.0 381.9 L1604.5 374.3 L1599.1 370.0 L1593.8 370.7 L1579.3 376.5 L1564.9 392.4 L1557.6 409.8 L1556.2 425.7 L1554.7 431.5 L1541.7 432.9 L1535.9 428.6 L1533.0 417.0 L1528.7 409.8 L1535.9 402.5 L1549.0 395.3 L1550.4 380.8 L1551.8 363.5 L1562.0 362.0 L1570.7 365.4 L1570.7 330.2Z" fill="#FF0000"/>
<path d="M1577.4 310.3 L1585.0 315.7 L1589.3 324.4 L1591.5 338.5 L1589.3 347.2 L1582.8 352.6 L1579.0 352.1 L1584.4 345.0 L1585.5 338.5 L1585.0 327.6 L1583.3 320.1Z" fill="#AA0000"/>
<path d="M1672.3 346.6 L1688.0 348.8 L1691.8 342.8 L1704.3 342.8 L1688.0 365.1 L1700.0 380.8 L1697.8 381.9 L1688.0 384.1 L1679.3 376.5 L1671.8 368.9 L1672.8 360.2Z" fill="#FF0000"/>
<path d="M1720.6 370.0 L1716.2 378.6 L1711.9 385.2 L1716.2 387.3 L1729.3 410.0 L1726.4 400.0 L1733.6 411.6 L1740.8 423.1 L1746.6 436.2 L1753.9 449.2 L1761.5 460.8 L1769.8 460.8 L1769.8 371.1 L1717.9 363.5Z" fill="#FF0000"/>
<path d="M1727.1 381.9 L1729.3 379.7 L1744.4 401.4 L1742.3 403.6Z" fill="#AA0000"/>
<path d="M1488.2 271.6 L1496.9 272.3 L1504.1 276.7 L1511.3 281.0 L1520.0 272.3 L1513.5 259.3 L1496.9 259.3Z" fill="#FFAA00"/>
<path d="M1503.4 259.3 L1507.0 264.4 L1512.8 265.8 L1514.2 259.3Z" fill="#FFFF00"/>
<path d="M1525.1 298.4 L1527.3 303.4 L1525.1 308.5 L1522.9 303.4Z" fill="#FFFF00"/>
<path d="M1541.7 343.2 L1556.2 335.3 L1560.5 351.9 L1551.8 350.5Z" fill="#FFAA00"/>
<path d="M1407.2 400.4 L1414.4 408.3 L1407.2 421.3 L1401.4 408.3Z" fill="#FFAA00"/>
<path d="M1588.0 386.6 L1601.0 380.8 L1604.6 388.1 L1602.5 402.5 L1598.1 415.6 L1588.0 409.8 L1586.6 395.3Z" fill="#FFAA00"/>
<path d="M1569.2 406.9 L1575.7 405.4 L1573.5 431.5 L1567.8 434.4 L1566.3 419.9Z" fill="#FFAA00"/>
<path d="M1421.6 419.9 L1426.0 440.0 L1427.4 444.5 L1421.6 457.5 L1413.7 445.9 L1416.6 430.0 L1415.9 437.3Z" fill="#FF0000"/>
<path d="M1452.0 418.4 L1456.4 430.0 L1452.7 440.0 L1451.3 441.6 L1447.7 430.0Z" fill="#FF0000"/>
<path d="M1363.1 499.4 L1369.6 511.0 L1362.3 524.0 L1355.1 511.0Z" fill="#FF0000"/>
<path d="M1392.7 571.8 L1405.7 567.4 L1408.6 573.2 L1406.5 576.8Z" fill="#FF0000"/>
<path d="M1376.8 593.5 L1392.0 576.8 L1393.4 597.8 L1389.8 598.5Z" fill="#FF0000"/>
<path d="M1569.9 445.9 L1585.1 441.6 L1588.7 451.7 L1584.4 469.1 L1577.9 465.4 L1569.9 457.5Z" fill="#FF0000"/>
<path d="M1638.1 294.0 L1634.9 301.6 L1627.3 305.9 L1620.8 315.7 L1614.2 329.8 L1610.5 341.8 L1612.1 347.2 L1622.9 352.6 L1629.4 355.9 L1635.9 362.4 L1640.3 366.7 L1643.0 371.0 L1650.1 372.7 L1658.7 373.2 L1660.9 360.2 L1662.0 343.9 L1657.6 333.1 L1653.3 322.2 L1651.1 314.6 L1650.1 302.7 L1645.7 302.7Z" fill="#FFAA00"/>
<path d="M1629.4 316.8 L1642.5 323.3 L1646.8 333.1 L1652.2 345.0 L1643.5 356.4 L1638.1 351.5 L1630.5 339.6 L1627.3 327.6 L1625.1 323.3Z" fill="#FFFF00"/>
<path d="M1608.8 289.1 L1619.1 274.5 L1622.4 278.3 L1620.2 286.4 L1613.2 292.9Z" fill="#FFAA00"/>
<path d="M785.5 196.2 L799.2 217.9 L797.8 223.7 L796.3 252.6 L791.3 267.1 L782.6 285.9 L779.7 302.5 L772.5 306.1 L756.5 301.0 L742.1 288.8 L728.3 302.5 L732.0 313.3 L742.8 323.5 L752.2 335.0 L771.0 339.4 L775.4 345.2 L770.3 354.6 L742.1 358.2 L737.0 365.4 L736.3 400.0 L737.0 404.5 L728.3 417.5 L719.7 404.5 L721.1 390.0 L724.7 377.0 L722.5 346.6 L717.5 337.9 L711.7 329.3 L703.0 322.0 L704.5 294.5 L675.5 294.5 L675.5 131.1 L785.5 131.1Z" fill="#AA0000"/>
<path d="M803.6 215.7 L811.5 212.8 L820.2 209.9 L826.7 210.9 L834.7 203.4 L816.6 188.9 L799.9 213.5Z" fill="#AA0000"/>
<path d="M817.3 294.5 L805.7 303.2 L802.8 309.0 L788.4 311.9 L784.8 320.6 L786.9 329.3 L802.1 340.1 L815.9 332.2 L827.4 324.9 L824.5 311.9 L820.9 300.3Z" fill="#AA0000"/>
<path d="M834.7 322.7 L845.5 312.6 L854.9 322.0 L853.5 326.4 L845.5 330.0Z" fill="#AA0000"/>
<path d="M860.0 330.7 L873.0 344.4 L870.1 349.5 L860.7 357.5 L855.6 343.7Z" fill="#AA0000"/>
<path d="M695.8 408.8 L698.4 408.8 L704.5 423.3 L698.4 433.4 L695.8 433.4Z" fill="#AA0000"/>
<path d="M963.4 411.7 L971.4 427.6 L964.1 445.0 L955.5 426.2Z" fill="#AA0000"/>
<path d="M890.4 302.5 L883.9 314.8 L888.2 326.4 L898.3 329.3 L905.6 328.5 L911.3 333.6 L915.7 346.6 L915.0 362.5 L913.5 385.7 L921.5 394.4 L941.7 398.7 L954.7 394.3 L964.9 398.7 L977.2 400.8 L988.0 413.1 L999.6 430.5 L1006.8 450.8 L1002.9 445.2 L1014.5 461.1 L1024.6 469.8 L1028.9 482.8 L1034.7 493.0 L1047.7 504.5 L1057.9 513.2 L1067.3 522.6 L1072.3 510.3 L1068.0 493.0 L1063.7 479.9 L1065.1 466.9 L1081.0 458.2 L1089.7 445.2 L1109.9 439.4 L1117.9 427.1 L1114.3 413.4 L1111.4 398.9 L1110.7 384.5 L1108.5 370.0 L1110.7 360.0 L1118.6 370.0 L1126.6 383.0 L1136.0 370.0 L1130.9 355.7 L1123.0 344.1 L1128.0 336.9 L1132.4 323.9 L1127.3 307.2 L1112.8 307.2 L1108.5 302.2 L1106.3 292.0 L1103.4 281.2 L1109.9 271.8 L1120.1 260.2 L1118.6 239.9 L1121.5 218.2 L1115.7 206.7 L1109.9 197.3 L1095.5 199.4 L1094.0 177.7 L1088.2 167.6 L1088.2 101.1 L872.3 131.1 L872.3 286.6 L885.3 288.0Z" fill="#AA0000"/>
<path d="M1142.5 160.4 L1157.7 164.7 L1164.9 164.7 L1188.1 187.9 L1188.1 219.7 L1179.4 210.3 L1172.2 209.6 L1163.5 200.9 L1153.3 192.2 L1138.9 185.0 L1133.8 176.3Z" fill="#AA0000"/>
<path d="M1142.5 221.1 L1157.0 224.8 L1162.7 238.5 L1157.0 250.1 L1141.8 253.0 L1135.3 238.5Z" fill="#AA0000"/>
<path d="M1141.8 267.4 L1149.7 280.5 L1141.0 289.1 L1134.5 279.7Z" fill="#AA0000"/>
<path d="M1214.8 290.6 L1218.4 302.9 L1214.1 307.2 L1209.0 300.7Z" fill="#AA0000"/>
<path d="M1190.2 101.1 L1190.2 231.3 L1191.0 245.7 L1194.6 260.2 L1201.1 270.3 L1217.0 271.0 L1230.0 266.0 L1244.5 249.3 L1254.6 263.1 L1274.9 274.7 L1282.1 289.1 L1287.2 310.8 L1302.4 307.9 L1311.0 322.4 L1320.0 325.3 L1332.0 323.0 L1340.6 315.7 L1353.7 315.7 L1365.2 314.3 L1376.8 311.4 L1394.2 309.9 L1397.1 299.8 L1407.2 283.9 L1407.2 272.3 L1393.4 270.9 L1371.0 270.9 L1371.0 156.6Z" fill="#AA0000"/>
<path d="M1248.8 426.4 L1259.0 413.4 L1268.4 427.1 L1259.0 438.7Z" fill="#AA0000"/>
<path d="M1349.3 355.5 L1355.1 357.0 L1366.7 364.9 L1368.8 373.6 L1372.5 392.4 L1379.7 402.5 L1382.6 417.0 L1385.5 431.5 L1384.0 430.0 L1376.8 445.9 L1365.2 440.1 L1359.4 430.0 L1355.1 428.6 L1347.9 417.0 L1342.8 408.3 L1347.9 398.2 L1352.2 385.2 L1346.4 373.6 L1342.8 363.5Z" fill="#AA0000"/>
<path d="M1420.9 377.2 L1426.7 384.4 L1421.6 391.0 L1412.2 385.2Z" fill="#AA0000"/>
<path d="M1384.0 239.1 L1391.3 250.6 L1402.1 252.8 L1408.6 263.7 L1408.6 239.1Z" fill="#FF5500"/>
<path d="M872.0 304.7 L876.9 317.0 L878.4 306.1Z" fill="#FF5500"/>
<path d="M936.5 343.7 L935.5 345.5 L933.5 345.5 L932.5 343.7 L933.5 342.0 L935.5 342.0Z" fill="#AA0000"/>
<path d="M980.6 364.7 L979.6 366.5 L977.6 366.5 L976.6 364.7 L977.6 362.9 L979.6 362.9Z" fill="#AA0000"/>
<path d="M1364.2 406.1 L1363.6 407.2 L1362.5 407.2 L1361.9 406.1 L1362.5 405.1 L1363.6 405.1Z" fill="#FF0000"/>
<path d="M1319.4 430.0 L1318.8 431.0 L1317.6 431.0 L1317.1 430.0 L1317.6 429.0 L1318.8 429.0Z" fill="#FFFF00"/>
<path d="M1437.3 407.6 L1436.7 408.6 L1435.5 408.6 L1435.0 407.6 L1435.5 406.6 L1436.7 406.6Z" fill="#FFAA00"/>
<path d="M1509.9 342.5 L1521.5 343.2 L1521.5 344.7 L1509.9 343.9Z" fill="#FFAA00"/>
<path d="M1230.5 322.4 L1229.9 323.4 L1228.7 323.4 L1228.1 322.4 L1228.7 321.4 L1229.9 321.4Z" fill="#FFAA00"/>
<path d="M1450.3 461.8 L1451.7 461.8 L1452.0 470.5 L1450.6 470.5Z" fill="#FFAA00"/>
<path d="M1615.1 448.9 L1614.5 449.9 L1613.4 449.9 L1612.8 448.9 L1613.4 447.9 L1614.5 447.9Z" fill="#FFFF00"/>
<path d="M1733.0 511.4 L1732.6 512.1 L1731.7 512.1 L1731.3 511.4 L1731.7 510.6 L1732.6 510.6Z" fill="#AAFF55"/>
<path d="M1674.0 552.6 L1672.7 554.9 L1670.1 554.9 L1668.8 552.6 L1670.1 550.4 L1672.7 550.4Z" fill="#FFAA00"/>
<path d="M1039.0 781.9 L1038.2 783.2 L1036.7 783.2 L1035.9 781.9 L1036.7 780.6 L1038.2 780.6Z" fill="#55FFAA"/>
<path d="M1557.2 783.2 L1556.3 784.7 L1554.6 784.7 L1553.7 783.2 L1554.6 781.6 L1556.3 781.6Z" fill="#55FFAA"/>
<path d="M1673.7 552.8 L1672.5 554.8 L1670.3 554.8 L1669.1 552.8 L1670.3 550.8 L1672.5 550.8Z" fill="#FFAA00"/>
<path d="M1288.4 802.2 L1294.7 802.2 L1294.7 803.9 L1288.4 803.9Z" fill="#55FFAA"/>
<path d="M1051.6 1388.0 L1053.2 1388.0 L1053.2 1396.8 L1051.6 1396.8Z" fill="#AAFF55"/>
<path d="M1241.5 1471.5 L1246.6 1471.5 L1246.6 1473.3 L1241.5 1473.3Z" fill="#AAFF55"/>
<path d="M1245.3 1493.5 L1244.7 1494.6 L1243.4 1494.6 L1242.8 1493.5 L1243.4 1492.4 L1244.7 1492.4Z" fill="#AAFF55"/>
<path d="M1557.2 1473.3 L1554.2 1476.3 L1551.1 1473.3 L1554.2 1470.3Z" fill="#AAFF55"/>
<path d="M727.7 323.6 L742.5 302.7 L757.3 323.6 L742.5 344.4Z" fill="#fff" stroke="none"/>
<path d="M875.5 302.7 L890.2 281.8 L905.0 302.7 L890.2 323.6Z" fill="#fff" stroke="none"/>
<path d="M949.3 281.8 L964.1 260.9 L978.8 281.8 L964.1 302.7Z" fill="#fff" stroke="none"/>
<path d="M1348.1 344.4 L1362.9 323.6 L1377.7 323.6 L1392.4 344.4 L1377.7 365.3 L1362.9 365.3Z" fill="#fff" stroke="none"/>
<path d="M1569.7 302.7 L1584.5 323.6 L1584.5 344.4 L1569.7 365.3 L1554.9 344.4 L1554.9 323.6Z" fill="#fff" stroke="none"/>
</g>
<rect x="285.6" y="135.6" width="1698.4" height="1462.0" fill="none" stroke="#262626" stroke-width="2"/>
<path d="M433.3 1597.6v-17 M433.3 135.6v17 M728.8 1597.6v-17 M728.8 135.6v17 M1024.3 1597.6v-17 M1024.3 135.6v17 M1319.8 1597.6v-17 M1319.8 135.6v17 M1615.3 1597.6v-17 M1615.3 135.6v17 M1910.8 1597.6v-17 M1910.8 135.6v17 M285.6 1597.6h17 M1984.0 1597.6h-17 M285.6 1388.7h17 M1984.0 1388.7h-17 M285.6 1179.9h17 M1984.0 1179.9h-17 M285.6 971.0h17 M1984.0 971.0h-17 M285.6 762.2h17 M1984.0 762.2h-17 M285.6 553.3h17 M1984.0 553.3h-17 M285.6 344.5h17 M1984.0 344.5h-17 M285.6 135.6h17 M1984.0 135.6h-17" stroke="#262626" stroke-width="2" fill="none"/>
<rect x="2024.0" y="1473.75" width="85.0" height="122.15" fill="#0000AA"/>
<rect x="2024.0" y="1352.10" width="85.0" height="122.15" fill="#0000FF"/>
<rect x="2024.0" y="1230.45" width="85.0" height="122.15" fill="#0055FF"/>
<rect x="2024.0" y="1108.80" width="85.0" height="122.15" fill="#00AAFF"/>
<rect x="2024.0" y="987.15" width="85.0" height="122.15" fill="#00FFFF"/>
<rect x="2024.0" y="865.50" width="85.0" height="122.15" fill="#55FFAA"/>
<rect x="2024.0" y="743.85" width="85.0" height="122.15" fill="#AAFF55"/>
<rect x="2024.0" y="622.20" width="85.0" height="122.15" fill="#FFFF00"/>
<rect x="2024.0" y="500.55" width="85.0" height="122.15" fill="#FFAA00"/>
<rect x="2024.0" y="378.90" width="85.0" height="122.15" fill="#FF5500"/>
<rect x="2024.0" y="257.25" width="85.0" height="122.15" fill="#FF0000"/>
<rect x="2024.0" y="135.60" width="85.0" height="122.15" fill="#AA0000"/>
<path d="M2109.0 1473.8h-16 M2109.0 1352.1h-16 M2109.0 1230.5h-16 M2109.0 1108.8h-16 M2109.0 987.1h-16 M2109.0 865.5h-16 M2109.0 743.8h-16 M2109.0 622.2h-16 M2109.0 500.5h-16 M2109.0 378.9h-16 M2109.0 257.2h-16" stroke="#262626" stroke-width="2" fill="none"/>
<rect x="2024.0" y="135.6" width="85.0" height="1459.8000000000002" fill="none" stroke="#262626" stroke-width="2"/>
<text transform="translate(431.5 1688.4) scale(1 1.04)" font-size="68" text-anchor="middle" fill="#262626" font-family="Liberation Sans, Arial, Helvetica, sans-serif">0</text>
<text transform="translate(727.0 1688.4) scale(1 1.04)" font-size="68" text-anchor="middle" fill="#262626" font-family="Liberation Sans, Arial, Helvetica, sans-serif">2</text>
<text transform="translate(1022.5 1688.4) scale(1 1.04)" font-size="68" text-anchor="middle" fill="#262626" font-family="Liberation Sans, Arial, Helvetica, sans-serif">4</text>
<text transform="translate(1318.0 1688.4) scale(1 1.04)" font-size="68" text-anchor="middle" fill="#262626" font-family="Liberation Sans, Arial, Helvetica, sans-serif">6</text>
<text transform="translate(1613.5 1688.4) scale(1 1.04)" font-size="68" text-anchor="middle" fill="#262626" font-family="Liberation Sans, Arial, Helvetica, sans-serif">8</text>
<text transform="translate(1909.0 1688.4) scale(1 1.04)" font-size="68" text-anchor="middle" fill="#262626" font-family="Liberation Sans, Arial, Helvetica, sans-serif">10</text>
<text transform="translate(263.3 1624.8) scale(1 1.04)" font-size="68" text-anchor="end" fill="#262626" font-family="Liberation Sans, Arial, Helvetica, sans-serif">80</text>
<text transform="translate(263.3 1415.9) scale(1 1.04)" font-size="68" text-anchor="end" fill="#262626" font-family="Liberation Sans, Arial, Helvetica, sans-serif">85</text>
<text transform="translate(263.3 1207.1) scale(1 1.04)" font-size="68" text-anchor="end" fill="#262626" font-family="Liberation Sans, Arial, Helvetica, sans-serif">90</text>
<text transform="translate(263.3 998.2) scale(1 1.04)" font-size="68" text-anchor="end" fill="#262626" font-family="Liberation Sans, Arial, Helvetica, sans-serif">95</text>
<text transform="translate(263.3 789.4) scale(1 1.04)" font-size="68" text-anchor="end" fill="#262626" font-family="Liberation Sans, Arial, Helvetica, sans-serif">100</text>
<text transform="translate(263.3 580.5) scale(1 1.04)" font-size="68" text-anchor="end" fill="#262626" font-family="Liberation Sans, Arial, Helvetica, sans-serif">105</text>
<text transform="translate(263.3 371.7) scale(1 1.04)" font-size="68" text-anchor="end" fill="#262626" font-family="Liberation Sans, Arial, Helvetica, sans-serif">110</text>
<text transform="translate(263.3 162.8) scale(1 1.04)" font-size="68" text-anchor="end" fill="#262626" font-family="Liberation Sans, Arial, Helvetica, sans-serif">115</text>
<text transform="translate(2127.3 1498.3) scale(1 1.04)" font-size="61" text-anchor="start" fill="#262626" font-family="Liberation Sans, Arial, Helvetica, sans-serif">150</text>
<text transform="translate(2127.3 1376.7) scale(1 1.04)" font-size="61" text-anchor="start" fill="#262626" font-family="Liberation Sans, Arial, Helvetica, sans-serif">160</text>
<text transform="translate(2127.3 1255.0) scale(1 1.04)" font-size="61" text-anchor="start" fill="#262626" font-family="Liberation Sans, Arial, Helvetica, sans-serif">170</text>
<text transform="translate(2127.3 1133.4) scale(1 1.04)" font-size="61" text-anchor="start" fill="#262626" font-family="Liberation Sans, Arial, Helvetica, sans-serif">180</text>
<text transform="translate(2127.3 1011.8) scale(1 1.04)" font-size="61" text-anchor="start" fill="#262626" font-family="Liberation Sans, Arial, Helvetica, sans-serif">190</text>
<text transform="translate(2127.3 890.1) scale(1 1.04)" font-size="61" text-anchor="start" fill="#262626" font-family="Liberation Sans, Arial, Helvetica, sans-serif">200</text>
<text transform="translate(2127.3 768.4) scale(1 1.04)" font-size="61" text-anchor="start" fill="#262626" font-family="Liberation Sans, Arial, Helvetica, sans-serif">210</text>
<text transform="translate(2127.3 646.8) scale(1 1.04)" font-size="61" text-anchor="start" fill="#262626" font-family="Liberation Sans, Arial, Helvetica, sans-serif">220</text>
<text transform="translate(2127.3 525.1) scale(1 1.04)" font-size="61" text-anchor="start" fill="#262626" font-family="Liberation Sans, Arial, Helvetica, sans-serif">230</text>
<text transform="translate(2127.3 403.5) scale(1 1.04)" font-size="61" text-anchor="start" fill="#262626" font-family="Liberation Sans, Arial, Helvetica, sans-serif">240</text>
<text transform="translate(2127.3 281.8) scale(1 1.04)" font-size="61" text-anchor="start" fill="#262626" font-family="Liberation Sans, Arial, Helvetica, sans-serif">260</text>
<text transform="translate(2065.8 100.4) scale(1 1.04)" font-size="61" text-anchor="middle" fill="#000" font-family="Liberation Sans, Arial, Helvetica, sans-serif">K</text>
<text transform="translate(1133.5 110.4) scale(1 1.04)" font-size="83.3" text-anchor="middle" fill="#000" font-weight="bold" font-family="Liberation Sans, Arial, Helvetica, sans-serif">Temperature 20150129</text>
<text transform="translate(1134.6 1783.7) scale(1 1.04)" font-size="76" text-anchor="middle" fill="#262626" font-family="Liberation Sans, Arial, Helvetica, sans-serif">UT (Hour)</text>
<text transform="translate(123.3 868.3) rotate(-90) scale(1 1.04)" font-size="76" text-anchor="middle" fill="#262626" font-family="Liberation Sans, Arial, Helvetica, sans-serif">Altitude (km)</text>
</svg></body></html>
